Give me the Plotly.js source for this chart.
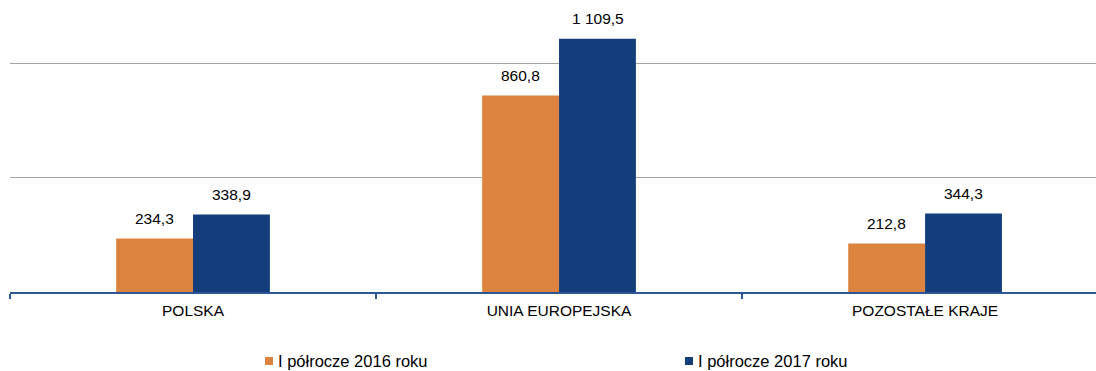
<!DOCTYPE html>
<html>
<head>
<meta charset="utf-8">
<script src="https://cdn.plot.ly/plotly-3.0.1.min.js"></script>
<style>html,body{margin:0;padding:0;background:#fff;}#chart{width:1096px;height:371px;}</style>
</head>
<body>
<div id="chart"></div>
<script>
const categories = ["POLSKA", "UNIA EUROPEJSKA", "POZOSTAŁE KRAJE"];
const seriesNames = ["I półrocze 2016 roku", "I półrocze 2017 roku"];
const values2016 = [234.3, 860.8, 212.8];
const values2017 = [338.9, 1109.5, 344.3];
const colors = ["#dc843f", "#133e7b"];

const FONT = "Liberation Sans, Arial, sans-serif";
const traces = [values2016, values2017].map((vals, i) => ({
  type: "bar",
  name: seriesNames[i],
  x: categories,
  y: vals,
  marker: {color: colors[i]},
  hoverinfo: "x+y+name",
  showlegend: false
}));

// data labels through the axis scales
const annotations = [];
[values2016, values2017].forEach((vals, i) => {
  vals.forEach((v, j) => {
    annotations.push({
      x: categories[j], y: v, xref: "x", yref: "y",
      text: v.toFixed(1).replace(".", ",").replace(/\B(?=(\d{3})+(?!\d))/g, " "),
      showarrow: false, xanchor: "center", yanchor: "middle",
      xshift: i === 0 ? -38.5 : 38.5, yshift: 20,
      font: {family: FONT, size: 15.5, color: "#000"}
    });
  });
});

// legend drawn as real text
const legendPos = [
  {sx0: 0.2348, sx1: 0.2422, tx: 0.2449},
  {sx0: 0.6215, sx1: 0.6289, tx: 0.6317}
];
const shapes = [];
seriesNames.forEach((name, i) => {
  shapes.push({type: "rect", xref: "paper", yref: "paper",
    x0: legendPos[i].sx0, x1: legendPos[i].sx1, y0: -0.2372, y1: -0.2664,
    fillcolor: colors[i], line: {width: 0}});
  annotations.push({
    x: legendPos[i].tx, y: -0.2518, xref: "paper", yref: "paper",
    text: name, showarrow: false, xanchor: "left", yanchor: "middle",
    font: {family: FONT, size: 16.5, color: "#000"}
  });
});

const layout = {
  width: 1096, height: 371,
  margin: {l: 10, r: 0, t: 18, b: 79},
  paper_bgcolor: "#fff", plot_bgcolor: "#fff",
  barmode: "group", bargap: 0.58, bargroupgap: 0,
  separators: ", ",
  font: {family: FONT, size: 15.5, color: "#000"},
  xaxis: {
    type: "category", range: [-0.5, 2.467],
    tickson: "boundaries", ticks: "outside", ticklen: 5, tickwidth: 2,
    tickcolor: "#2b5796", showline: true, linecolor: "#2b5796", linewidth: 2,
    showgrid: false, ticklabelstandoff: 3,
    tickfont: {family: FONT, size: 15.5, color: "#000"}
  },
  yaxis: {
    range: [0, 1200], dtick: 500, showticklabels: false, ticks: "",
    showgrid: true, gridcolor: "#a3a3a3", gridwidth: 1, zeroline: false, showline: false
  },
  annotations: annotations,
  shapes: shapes,
  showlegend: false
};

Plotly.newPlot("chart", traces, layout, {displayModeBar: false, staticPlot: true});
</script>
</body>
</html>
